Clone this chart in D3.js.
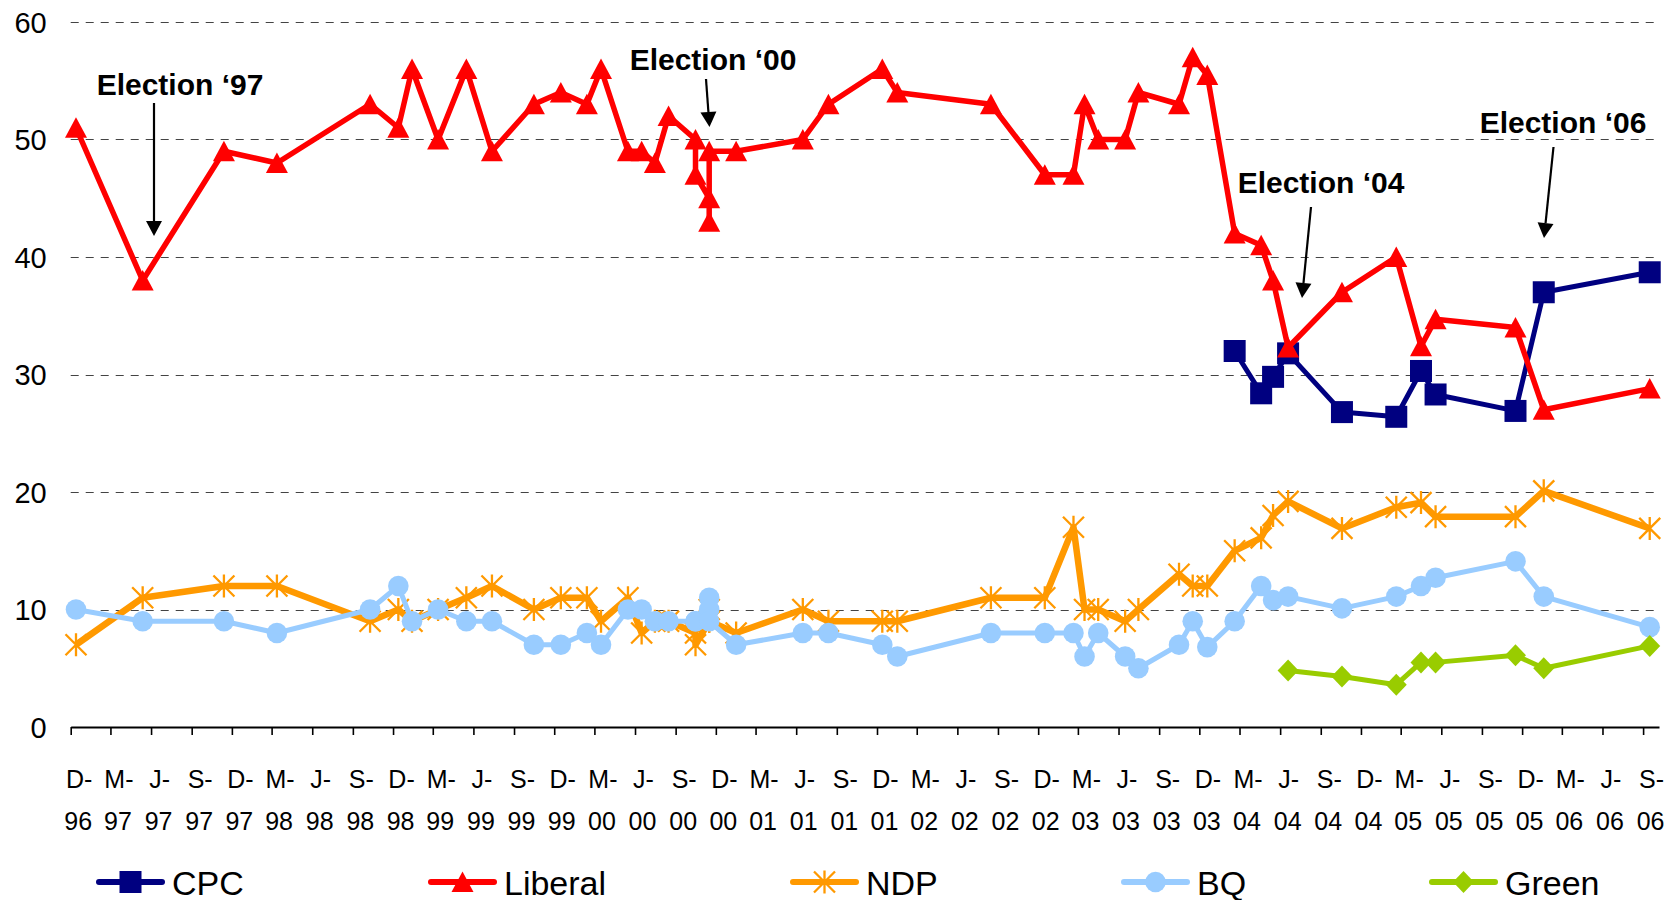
<!DOCTYPE html>
<html>
<head>
<meta charset="utf-8">
<title>Party support 1996-2006</title>
<script src="https://cdn.jsdelivr.net/npm/d3@7"></script>
<style>
body { margin: 0; background: #fff; }
svg { display: block; font-family: "Liberation Sans", Arial, sans-serif; }
</style>
</head>
<body>
<script>
// poll dates (several polls can share a date)
var dates = ["1996-12-13", "1997-05-13", "1997-11-13", "1998-03-13", "1998-10-10",
             "1998-12-13", "1999-01-13", "1999-03-13", "1999-05-16", "1999-07-13",
             "1999-10-16", "1999-12-16", "2000-02-13", "2000-03-16", "2000-05-16",
             "2000-06-16", "2000-07-16", "2000-08-16", "2000-10-16", "2000-10-16",
             "2000-11-16", "2000-11-16", "2000-11-16", "2001-01-16", "2001-06-16",
             "2001-08-13", "2001-12-13", "2002-01-16", "2002-08-16", "2002-12-16",
             "2003-02-19", "2003-03-16", "2003-04-16", "2003-06-16", "2003-07-16",
             "2003-10-16", "2003-11-16", "2003-12-19", "2004-02-19", "2004-04-19",
             "2004-05-16", "2004-06-19", "2004-10-19", "2005-02-19", "2005-04-16",
             "2005-05-19", "2005-11-16", "2006-01-19", "2006-09-16"];

var liberal = [51, 38, 49, 48, 53, 51, 56, 50, 56, 49,
               53, 54, 53, 56, 49, 49, 48, 52, 50, 47,
               45, 43, 49, 49, 50, 53, 56, 54, 53, 47,
               47, 53, 50, 50, 54, 53, 57, 55.5, 42, 41,
               38, 32.3, 37, 40, 32.4, 34.7, 34, 27, 28.8];

var ndp = [7, 11, 12, 12, 9, 10, 9, 10, 11, 12,
           10, 11, 11, 9, 11, 8, 9, 9, 8, 7,
           9, 10, 9, 8, 10, 9, 9, 9, 11, 11,
           17, 10, 10, 9, 10, 13, 12, 12, 15, 16.1,
           18, 19.2, 16.9, 18.7, 19.1, 17.9, 17.9, 20.1, 16.9];

var bq = [10, 9, 9, 8, 10, 12, 9, 10, 9, 9,
          7, 7, 8, 7, 10, 10, 9, 9, 9, 9,
          11, 10, 9, 7, 8, 8, 7, 6, 8, 8,
          8, 6, 8, 6, 5, 7, 9, 6.8, 9, 12,
          10.8, 11.1, 10.1, 11.1, 12, 12.7, 14.1, 11.1, 8.5];

// CPC and Green only polled from 2004 on
var cpc = Array(38).fill(null).concat(
          [32, 28.4, 29.8, 31.8, 26.8, 26.4, 30.3, 28.3, 26.9, 37, 38.7]);

var green = Array(41).fill(null).concat(
          [4.8, 4.3, 3.6, 5.5, 5.5, 6.1, 5.0, 6.9]);

var tickLabels = ["D-96", "M-97", "J-97", "S-97", "D-97", "M-98", "J-98", "S-98",
                  "D-98", "M-99", "J-99", "S-99", "D-99", "M-00", "J-00", "S-00",
                  "D-00", "M-01", "J-01", "S-01", "D-01", "M-02", "J-02", "S-02",
                  "D-02", "M-03", "J-03", "S-03", "D-03", "M-04", "J-04", "S-04",
                  "D-04", "M-05", "J-05", "S-05", "D-05", "M-06", "J-06", "S-06"];

var yTicks = [0, 10, 20, 30, 40, 50, 60];

var annotations = [
    {text: "Election \u201897", tx: 180, ty: 95, x1: 154, y1: 103, x2: 154, y2: 236},
    {text: "Election \u201800", tx: 713, ty: 70, x1: 706, y1: 79, x2: 709.5, y2: 127},
    {text: "Election \u201804", tx: 1321, ty: 193, x1: 1311, y1: 207, x2: 1302, y2: 298},
    {text: "Election \u201806", tx: 1563, ty: 133, x1: 1553.5, y1: 147, x2: 1544, y2: 238}
];

var series = [
    {name: "CPC",     values: cpc,     color: "#000080", width: 5,   shape: "square",   legendX: 99},
    {name: "Liberal", values: liberal, color: "#ff0000", width: 5.5, shape: "triangle", legendX: 431},
    {name: "NDP",     values: ndp,     color: "#ff9900", width: 6.5, shape: "star",     legendX: 793},
    {name: "BQ",      values: bq,      color: "#99ccff", width: 5,   shape: "circle",   legendX: 1124},
    {name: "Green",   values: green,   color: "#99cc00", width: 5,   shape: "diamond",  legendX: 1432}
];

var w = 1677;
var h = 900;
var parse = d3.timeParse("%Y-%m-%d");
var when = dates.map(parse);

var x = d3.scaleTime()
    .domain([parse("1996-12-01"), parse("2006-10-07")])
    .range([70.7, 1659]);
var y = d3.scaleLinear()
    .domain([0, 60])
    .range([727, 22]);

var svg = d3.select("body").append("svg")
    .attr("width", w)
    .attr("height", h);

svg.append("rect").attr("width", w).attr("height", h).attr("fill", "#fff");

// dashed gridlines
svg.append("g")
    .selectAll("line")
    .data(yTicks.filter(function(d) { return d > 0; }))
    .enter()
    .append("line")
    .attr("x1", x.range()[0])
    .attr("x2", x.range()[1])
    .attr("y1", function(d) { return Math.round(y(d)) + 0.5; })
    .attr("y2", function(d) { return Math.round(y(d)) + 0.5; })
    .attr("stroke", "#444")
    .attr("stroke-width", 1.2)
    .attr("stroke-dasharray", "8,7");

// y labels
var yAxis = d3.axisLeft(y).tickValues(yTicks).tickSize(0).tickPadding(24);
var gy = svg.append("g")
    .attr("transform", "translate(" + x.range()[0] + ",0)")
    .call(yAxis);
gy.select(".domain").remove();
gy.selectAll("text")
    .attr("font-size", "29px")
    .attr("font-family", "Liberation Sans, Arial, sans-serif")
    .attr("fill", "#000")
    .attr("dy", "0.36em");

// x axis, one tick every quarter
var tickDates = tickLabels.map(function(d, i) {
    return d3.timeMonth.offset(parse("1996-12-01"), 3 * i);
});
var xAxis = d3.axisBottom(x).tickValues(tickDates).tickSize(8).tickSizeOuter(0).tickFormat("");
var gx = svg.append("g")
    .attr("transform", "translate(0," + y(0) + ")")
    .call(xAxis);
gx.select(".domain").attr("stroke", "#000").attr("stroke-width", 2.2);
gx.selectAll(".tick line").attr("stroke", "#000").attr("stroke-width", 1.6);

var lab = gx.selectAll(".tick")
    .append("text")
    .attr("fill", "#000")
    .attr("font-size", "25px")
    .attr("font-family", "Liberation Sans, Arial, sans-serif")
    .attr("text-anchor", "middle");
lab.append("tspan")
    .attr("x", 8)
    .attr("y", 61)
    .text(function(d, i) { return tickLabels[i].split("-")[0] + "-"; });
lab.append("tspan")
    .attr("x", 7)
    .attr("y", 103)
    .text(function(d, i) { return tickLabels[i].split("-")[1]; });

// marker shapes
function marker(g, shape, color) {
    if (shape === "square") {
        g.append("rect").attr("x", -11).attr("y", -11).attr("width", 22).attr("height", 22)
            .attr("fill", color);
    } else if (shape === "triangle") {
        g.append("path").attr("d", "M0,-10.5L11,10L-11,10Z").attr("fill", color);
    } else if (shape === "circle") {
        g.append("circle").attr("r", 10.3).attr("fill", color);
    } else if (shape === "diamond") {
        g.append("path").attr("d", "M0,-11L10.5,0L0,11L-10.5,0Z").attr("fill", color);
    } else if (shape === "star") {
        g.append("path").attr("d", "M0,-11.5V11.5M-10.5,-10.5L10.5,10.5M10.5,-10.5L-10.5,10.5")
            .attr("stroke", color).attr("stroke-width", 2.3).attr("fill", "none");
    }
}

var line = d3.line()
    .defined(function(d) { return d[1] !== null; })
    .x(function(d) { return x(d[0]); })
    .y(function(d) { return y(d[1]); });

series.forEach(function(s) {
    var pts = when.map(function(d, i) { return [d, s.values[i]]; });
    var g = svg.append("g");
    g.append("path")
        .datum(pts)
        .attr("d", line)
        .attr("fill", "none")
        .attr("stroke", s.color)
        .attr("stroke-width", s.width)
        .attr("stroke-linejoin", "round");
    g.selectAll("g.pt")
        .data(pts.filter(function(d) { return d[1] !== null; }))
        .enter()
        .append("g")
        .attr("class", "pt")
        .attr("transform", function(d) { return "translate(" + x(d[0]) + "," + y(d[1]) + ")"; })
        .each(function() { marker(d3.select(this), s.shape, s.color); });
});

// election annotations
annotations.forEach(function(a) {
    svg.append("text")
        .attr("x", a.tx)
        .attr("y", a.ty)
        .attr("text-anchor", "middle")
        .attr("font-size", "30px")
        .attr("font-weight", "bold")
        .attr("fill", "#000")
        .text(a.text);
    var ang = Math.atan2(a.y2 - a.y1, a.x2 - a.x1);
    var hl = 15, hw = 8;
    var bx = a.x2 - hl * Math.cos(ang), by = a.y2 - hl * Math.sin(ang);
    svg.append("line")
        .attr("x1", a.x1).attr("y1", a.y1)
        .attr("x2", bx).attr("y2", by)
        .attr("stroke", "#000")
        .attr("stroke-width", 2.2);
    svg.append("path")
        .attr("d", "M" + a.x2 + "," + a.y2 +
                   "L" + (bx + hw * Math.sin(ang)) + "," + (by - hw * Math.cos(ang)) +
                   "L" + (bx - hw * Math.sin(ang)) + "," + (by + hw * Math.cos(ang)) + "Z")
        .attr("fill", "#000");
});

// legend
var legendY = 882;
series.forEach(function(s) {
    var g = svg.append("g").attr("transform", "translate(" + s.legendX + "," + legendY + ")");
    g.append("line")
        .attr("x1", 0).attr("x2", 63)
        .attr("stroke", s.color)
        .attr("stroke-width", 6)
        .attr("stroke-linecap", "round");
    var m = g.append("g").attr("transform", "translate(31.5,0)");
    marker(m, s.shape, s.color);
    g.append("text")
        .attr("x", 73)
        .attr("y", 12.5)
        .attr("font-size", "34px")
        .attr("fill", "#000")
        .text(s.name);
});
</script>
</body>
</html>
